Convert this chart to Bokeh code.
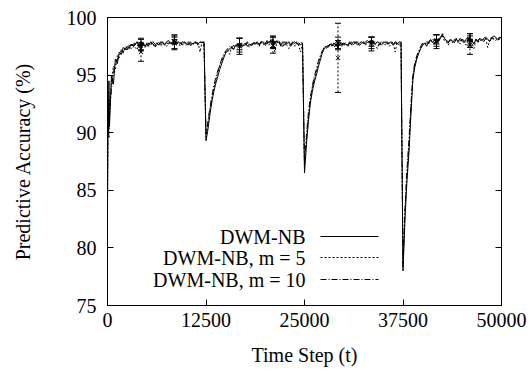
from bokeh.plotting import figure
from bokeh.models import (LinearAxis, FixedTicker, Label, Arrow, Range1d, Whisker,
                          ColumnDataSource, TeeHead)
from bokeh.embed import file_html
from bokeh.resources import INLINE

# ---------------- data ----------------
t_steps = [0, 60, 120, 180] + list(range(250, 50001, 250))

series_names = ["DWM-NB", "DWM-NB, m = 5", "DWM-NB, m = 10"]

acc_nb = [
    # concept 1 (0 .. 12250)
    84.0, 91.5, 89.8, 94.5,
    90.5, 95.0, 94.2, 96.4, 96.0, 97.0, 96.8, 97.4, 97.2, 97.5,
    97.3, 97.7, 97.5, 97.6, 97.9, 97.4, 97.6, 97.8, 97.5, 97.7,
    97.6, 97.9, 97.7, 97.5, 97.8, 97.6, 97.9, 97.8, 97.6, 97.9,
    98.0, 97.7, 97.9, 98.1, 97.8, 97.9, 97.7, 97.9, 97.8, 97.8,
    97.6, 97.9, 97.7, 97.8, 97.9, 97.7, 97.9, 97.8, 97.9,
    # concept 2 (12500 .. 24750)
    89.3, 90.3, 91.6, 92.7, 93.6, 94.3, 94.9, 95.5, 96.0, 96.5,
    96.9, 97.1, 97.3, 97.4, 97.2, 97.6, 97.5, 97.7, 97.4, 97.6,
    97.8, 97.5, 97.7, 97.6, 97.8, 97.7, 97.9, 97.6, 97.8, 97.9,
    97.7, 98.0, 97.8, 98.1, 97.9, 97.7, 98.0, 97.8, 97.6, 97.9,
    97.8, 97.7, 97.9, 97.6, 97.8, 97.9, 97.7, 97.8, 97.6, 97.8,
    # concept 3 (25000 .. 37250)
    86.5, 89.0, 91.0, 92.6, 93.6, 94.4, 95.0, 95.7, 96.3, 96.9,
    97.3, 97.5, 97.4, 97.7, 97.5, 97.8, 97.6, 97.4, 97.7, 97.8,
    97.6, 97.7, 97.5, 97.8, 97.7, 97.9, 97.8, 97.6, 97.8, 97.9,
    97.7, 97.9, 98.0, 97.8, 98.1, 97.9, 97.7, 97.9, 97.8, 97.6,
    97.8, 97.9, 97.7, 97.8, 97.9, 97.6, 97.8, 97.7, 97.9, 97.8,
    # concept 4 (37500 .. 50000)
    78.0, 82.5, 85.8, 88.2, 91.5, 94.6, 95.7, 96.4, 96.9, 97.3,
    97.6, 97.8, 97.5, 97.9, 98.1, 97.8, 98.0, 98.2, 97.9, 98.3,
    98.5, 98.2, 98.0, 97.8, 98.1, 98.0, 97.8, 98.1, 97.9, 98.2,
    98.0, 97.8, 98.1, 98.3, 97.9, 98.0, 97.7, 98.1, 97.9, 98.2,
    98.0, 98.2, 98.3, 98.1, 97.9, 98.2, 98.4, 98.3, 98.1, 98.3,
    98.2,
]

acc_m5 = [
    83.0, 90.0, 93.5, 89.5,
    92.0, 94.4, 95.8, 95.5, 96.7, 96.5, 97.2, 96.9, 97.4, 97.1,
    97.6, 97.3, 97.8, 97.4, 97.2, 97.7, 96.9, 97.7, 97.4, 97.8,
    97.5, 97.7, 97.8, 97.4, 97.6, 97.9, 97.5, 97.8, 97.7, 97.5,
    97.8, 97.9, 97.6, 98.0, 97.7, 97.8, 97.5, 97.8, 97.9, 97.6,
    97.8, 97.5, 97.8, 97.6, 97.9, 97.8, 97.0, 97.9, 97.7,
    89.6, 90.8, 92.0, 92.9, 93.9, 94.6, 95.2, 95.8, 96.2, 96.6,
    97.0, 97.2, 96.8, 97.5, 97.3, 97.5, 97.7, 97.4, 97.6, 97.5,
    97.7, 97.8, 97.4, 97.8, 97.6, 97.9, 97.7, 97.5, 97.9, 97.8,
    97.5, 97.9, 97.6, 98.0, 97.8, 97.0, 97.9, 97.7, 97.8, 97.4,
    97.9, 97.6, 97.3, 97.8, 97.7, 97.5, 97.9, 97.6, 97.0, 97.7,
    87.0, 89.5, 91.4, 92.9, 93.9, 94.7, 95.3, 96.0, 96.5, 97.0,
    97.4, 97.3, 97.6, 97.5, 97.8, 97.4, 97.7, 97.6, 97.8, 97.5,
    97.7, 97.8, 97.6, 97.9, 97.6, 97.8, 97.7, 97.9, 97.5, 97.8,
    97.9, 97.6, 97.8, 98.0, 97.7, 97.9, 97.6, 97.3, 97.8, 97.7,
    97.9, 97.6, 97.8, 97.5, 97.7, 97.9, 97.0, 97.8, 97.6, 97.7,
    78.3, 83.0, 86.3, 88.8, 92.0, 94.8, 95.9, 96.5, 97.0, 97.4,
    97.7, 97.6, 97.8, 97.7, 98.0, 97.9, 97.6, 98.1, 98.0, 98.2,
    98.4, 98.0, 97.9, 97.6, 98.0, 97.8, 98.1, 97.9, 98.0, 97.7,
    98.1, 97.9, 97.6, 98.0, 98.2, 97.8, 97.3, 98.0, 97.8, 98.1,
    97.9, 98.1, 98.2, 97.4, 98.0, 98.1, 98.2, 98.0, 98.2, 98.1,
    98.0,
]

acc_m10 = [
    85.0, 92.5, 90.5, 93.0,
    91.5, 93.8, 95.2, 96.1, 96.3, 96.9, 97.1, 97.0, 97.5, 97.3,
    97.5, 97.6, 97.4, 97.8, 97.6, 97.5, 97.8, 97.6, 97.7, 97.5,
    97.8, 97.6, 97.9, 97.7, 97.5, 97.8, 97.7, 97.9, 97.6, 97.8,
    97.7, 97.9, 97.8, 97.6, 98.0, 97.8, 97.9, 97.6, 97.8, 97.7,
    97.9, 97.7, 97.6, 97.9, 97.8, 97.6, 97.8, 97.9, 97.8,
    89.9, 91.0, 92.2, 93.2, 94.1, 94.8, 95.4, 95.9, 96.4, 96.8,
    97.1, 97.3, 97.5, 97.3, 97.6, 97.4, 97.7, 97.6, 97.8, 97.5,
    97.6, 97.9, 97.7, 97.5, 97.8, 97.6, 97.8, 97.7, 97.9, 97.6,
    97.8, 97.7, 97.9, 97.8, 97.6, 97.9, 97.7, 98.0, 97.5, 97.8,
    97.6, 97.9, 97.8, 97.5, 97.9, 97.7, 97.8, 97.6, 97.9, 97.7,
    87.3, 89.8, 91.8, 93.1, 94.1, 94.9, 95.5, 96.2, 96.7, 97.1,
    97.3, 97.6, 97.5, 97.7, 97.6, 97.8, 97.5, 97.7, 97.9, 97.6,
    97.8, 97.6, 97.8, 97.7, 97.9, 97.6, 97.9, 97.8, 97.7, 97.9,
    97.8, 97.7, 97.9, 97.8, 98.0, 97.7, 97.9, 97.8, 97.6, 97.9,
    97.7, 97.8, 97.9, 97.7, 97.8, 97.6, 97.9, 97.8, 97.7, 97.9,
    78.6, 83.5, 86.8, 89.3, 92.4, 95.0, 96.1, 96.7, 97.1, 97.5,
    97.8, 97.7, 97.9, 97.8, 98.0, 98.1, 97.8, 98.0, 98.2, 98.1,
    98.6, 98.3, 98.0, 97.9, 98.1, 97.9, 98.0, 98.2, 97.8, 98.0,
    98.1, 98.0, 97.9, 98.2, 98.1, 98.0, 97.8, 98.1, 98.0, 98.2,
    98.1, 97.9, 98.2, 98.1, 98.0, 98.3, 98.1, 98.2, 98.0, 98.2,
    98.3,
]

# error bars
eb_t = [4250, 8500, 16750, 21000, 29250, 33500, 41750, 46000]
eb_nb_mean = [97.6, 98.1, 97.7, 97.9, 97.6, 97.9, 98.1, 98.1]
eb_nb_err = [0.5, 0.4, 0.5, 0.5, 0.4, 0.4, 0.4, 0.5]
eb_m5_mean = [97.0, 97.8, 97.5, 97.6, 96.5, 97.7, 97.9, 97.6]
eb_m5_err = [0.8, 0.6, 0.7, 0.7, 3.0, 0.6, 0.6, 0.8]
eb_m10_mean = [97.7, 97.8, 97.6, 97.8, 97.8, 97.8, 98.0, 98.0]
eb_m10_err = [0.5, 0.5, 0.6, 0.5, 0.5, 0.5, 0.5, 0.6]

x_ticks = [0, 12500, 25000, 37500, 50000]
y_ticks = [75, 80, 85, 90, 95, 100]

assert len(t_steps) == len(acc_nb) == len(acc_m5) == len(acc_m10)

# ---------------- figure ----------------
FONT = "Liberation Serif"
FS = "20px"

p = figure(width=532, height=371, output_backend="svg", toolbar_location=None,
           x_range=Range1d(0, 50000), y_range=Range1d(75, 100),
           min_border_left=107, min_border_right=31, min_border_top=17,
           min_border_bottom=66)
p.background_fill_color = "white"
p.border_fill_color = "white"
p.grid.visible = False
p.outline_line_color = "black"
p.outline_line_width = 1


def style_axis(ax, ticks, labels=True):
    ax.ticker = FixedTicker(ticks=ticks)
    ax.axis_line_color = "black"
    ax.major_tick_line_color = "black"
    ax.major_tick_in = 6
    ax.major_tick_out = 0
    ax.minor_tick_line_color = None
    ax.major_label_text_font = FONT
    ax.major_label_text_color = "black"
    ax.major_label_text_font_size = FS
    if not labels:
        ax.major_label_text_color = None
        ax.major_label_standoff = 0


xa = p.xaxis[0]
ya = p.yaxis[0]
style_axis(xa, x_ticks)
style_axis(ya, y_ticks)
xa.major_label_standoff = 7
ya.major_label_standoff = 11
xa.axis_label = "Time Step (t)"
ya.axis_label = "Predictive Accuracy (%)"
for ax in (xa, ya):
    ax.axis_label_text_font = FONT
    ax.axis_label_text_font_size = FS
    ax.axis_label_text_font_style = "normal"
    ax.axis_label_text_color = "black"
xa.axis_label_standoff = 14
ya.axis_label_standoff = 30

top_ax = LinearAxis()
right_ax = LinearAxis()
style_axis(top_ax, x_ticks, labels=False)
style_axis(right_ax, y_ticks, labels=False)
p.add_layout(top_ax, "above")
p.add_layout(right_ax, "right")

# ---------------- lines ----------------
p.line(t_steps, acc_m10, line_color="black", line_width=1, line_dash="6 2 1 2")
p.line(t_steps, acc_m5, line_color="black", line_width=1, line_dash="2 2")
p.line(t_steps, acc_nb, line_color="black", line_width=1)

# ---------------- error bars ----------------
for mean, err, dash, marker in [
    (eb_m10_mean, eb_m10_err, "6 2 1 2", "asterisk"),
    (eb_m5_mean, eb_m5_err, "2 2", "x"),
    (eb_nb_mean, eb_nb_err, "solid", "cross"),
]:
    src = ColumnDataSource(dict(
        t=eb_t, mean=mean,
        lower=[m - e for m, e in zip(mean, err)],
        upper=[m + e for m, e in zip(mean, err)],
    ))
    w = Whisker(base="t", lower="lower", upper="upper", source=src,
                dimension="height", line_color="black", line_width=1,
                line_dash=dash,
                upper_head=TeeHead(size=6, line_color="black", line_width=1),
                lower_head=TeeHead(size=6, line_color="black", line_width=1))
    p.add_layout(w)
    p.scatter("t", "mean", source=src, marker=marker, size=6,
              line_color="black", fill_color=None, line_width=1)

# ---------------- legend (gnuplot style: text left, sample right) ----------------
leg_rows = [69, 48, 26]
leg_dash = ["solid", "2 2", "6 2 1 2"]
for name, yy, dash in zip(series_names, leg_rows, leg_dash):
    p.add_layout(Label(x=198, y=yy, x_units="screen", y_units="screen",
                       text=name, text_align="right", text_baseline="middle",
                       text_font=FONT, text_font_size=FS, text_color="black"))
    p.add_layout(Arrow(x_start=213, y_start=yy, x_end=271, y_end=yy,
                       start_units="screen", end_units="screen",
                       start=None, end=None, line_color="black",
                       line_width=1, line_dash=dash))

open("out.html", "w").write(file_html(p, INLINE))
